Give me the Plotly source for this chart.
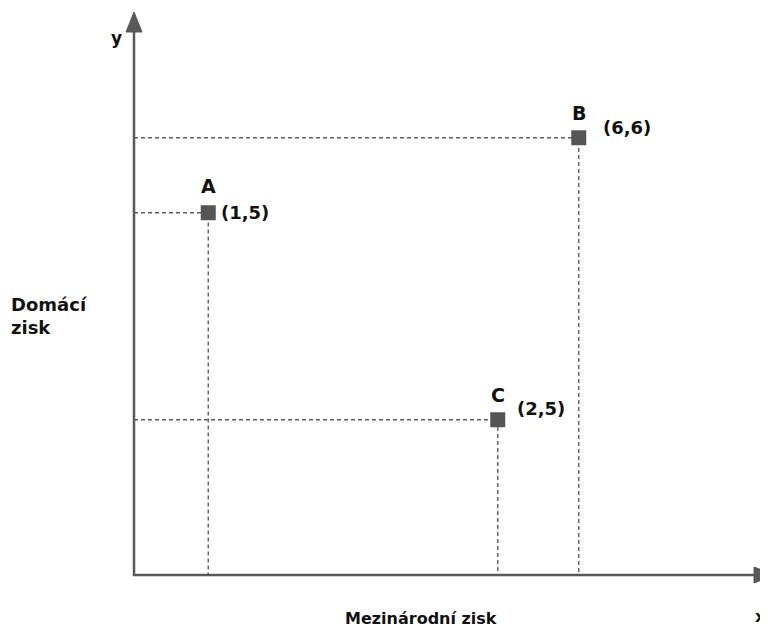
import plotly.graph_objects as go

# Data
names = ["A", "B", "C"]
x_vals = [0.99, 5.93, 4.85]
y_vals = [4.83, 5.83, 2.07]
coord_labels = ["(1,5)", "(6,6)", "(2,5)"]
x_title = "Mezinárodní zisk"
y_title = "Domácí<br>zisk"

# page has an 8px body margin -> figure is 760x622 placed at (8,8)
OFF = 8
W, H = 768 - OFF, 630 - OFF
s = 75.0                      # px per unit
ox, oy = 134 - OFF, 575 - OFF  # origin inside figure
xr = [-ox / s, (W - ox) / s]
yr = [-(H - oy) / s, oy / s]


def px(xp, yp):
    """window pixel -> data coords (for text placement only)"""
    return (xp - 134) / s, (575 - yp) / s


FONT = "DejaVu Sans"
AX = "#595959"
DASH = "#5f5f5f"
TXT = "#111111"

fig = go.Figure()

# dashed guide lines
for xv, yv in zip(x_vals, y_vals):
    fig.add_trace(go.Scatter(x=[0, xv, xv], y=[yv, yv, 0], mode="lines",
                             line=dict(color=DASH, width=1.4, dash="4px,3px"),
                             hoverinfo="skip", showlegend=False))

# axes lines
x_end, _ = px(756, 0)
_, y_end = px(0, 30)
fig.add_trace(go.Scatter(x=[0, 0, x_end], y=[y_end, 0, 0], mode="lines",
                         line=dict(color=AX, width=2.5), hoverinfo="skip",
                         showlegend=False))

# arrowheads
_, yb = px(0, 32)
_, yt = px(0, 12)
fig.add_shape(type="path",
              path=f"M {-8/s} {yb} L {8/s} {yb} L 0 {yt} Z",
              fillcolor=AX, line=dict(color=AX, width=1))
xb, _ = px(754, 0)
xt, _ = px(775, 0)
fig.add_shape(type="path",
              path=f"M {xb} {8/s} L {xb} {-8/s} L {xt} 0 Z",
              fillcolor=AX, line=dict(color=AX, width=1))

# points
fig.add_trace(go.Scatter(x=x_vals, y=y_vals, mode="markers",
                         marker=dict(symbol="square", size=15, color="#555555"),
                         showlegend=False))

# point name labels (offset above marker)
name_dy = [27, 25, 25]
for n, xv, yv, dy in zip(names, x_vals, y_vals, name_dy):
    fig.add_annotation(x=xv, y=yv, text=f"<b>{n}</b>", showarrow=False,
                       yshift=dy, xshift=0,
                       font=dict(family=FONT, size=19, color=TXT))

# coordinate labels
offsets = [(11, 0), (22, 10), (17, 11)]
for lab, xv, yv, (dx, dy) in zip(coord_labels, x_vals, y_vals, offsets):
    fig.add_annotation(x=xv, y=yv, text=f"<b>{lab}</b>", showarrow=False,
                       xanchor="left", xshift=dx, yshift=dy,
                       font=dict(family=FONT, size=18, color=TXT))

# axis titles
tx, ty = px(9, 316)
fig.add_annotation(x=tx, y=ty, text=f"<b>{y_title}</b>", showarrow=False,
                   align="left", xanchor="left",
                   font=dict(family=FONT, size=18, color=TXT))
tx, ty = px(421, 618)
fig.add_annotation(x=tx, y=ty, text=f"<b>{x_title}</b>", showarrow=False,
                   font=dict(family=FONT, size=16, color=TXT))
tx, ty = px(116, 38)
fig.add_annotation(x=tx, y=ty, text="<b>y</b>", showarrow=False,
                   font=dict(family=FONT, size=17, color=TXT))
tx, ty = px(753, 616)
fig.add_annotation(x=tx, y=ty, text="<b>x</b>", showarrow=False,
                   xanchor="left", yanchor="middle",
                   font=dict(family=FONT, size=16, color=TXT))

fig.update_layout(
    width=W, height=H, margin=dict(l=0, r=0, t=0, b=0),
    paper_bgcolor="white", plot_bgcolor="white",
    xaxis=dict(range=xr, visible=False, fixedrange=True),
    yaxis=dict(range=yr, visible=False, fixedrange=True),
    showlegend=False,
)

fig.write_html("out.html")
